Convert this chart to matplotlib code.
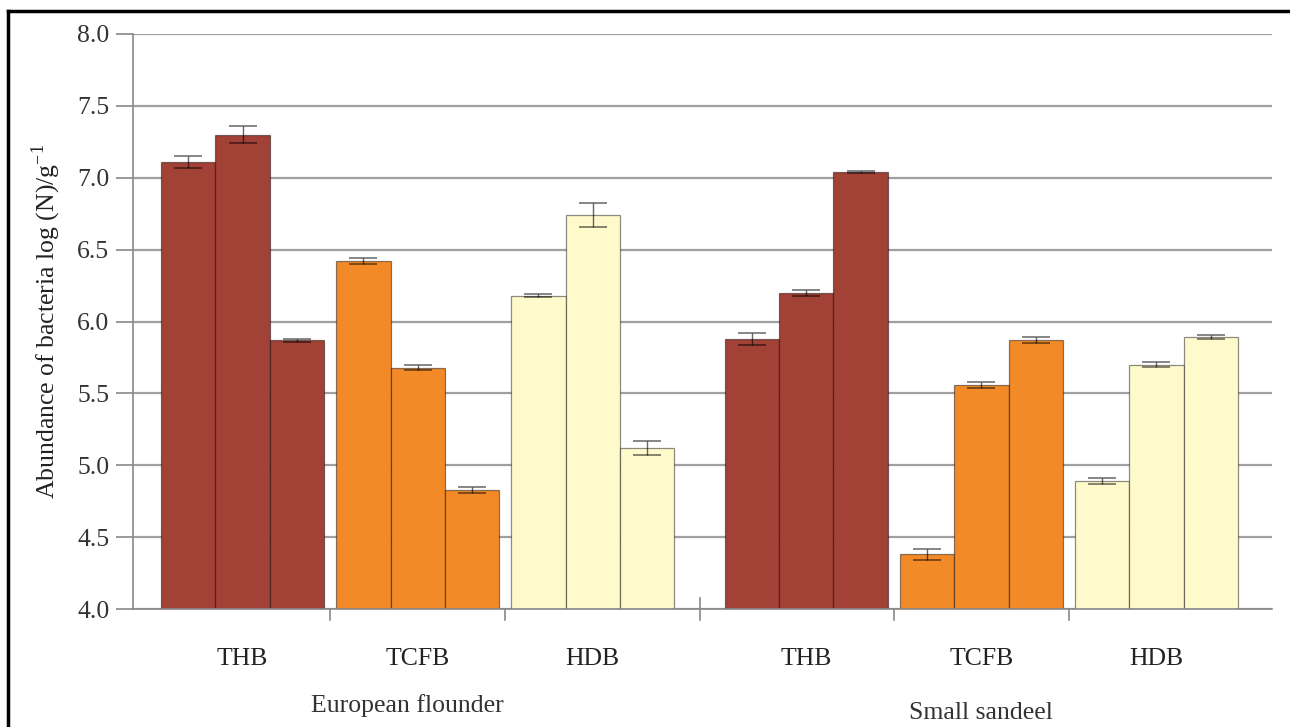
import numpy as np
import matplotlib.pyplot as plt
from matplotlib.lines import Line2D
import matplotlib.transforms as mtransforms

plt.rcParams['font.family'] = ['Liberation Serif', 'DejaVu Serif']

# data
categories = ["THB", "TCFB", "HDB", "THB", "TCFB", "HDB"]
species = ["European flounder", "Small sandeel"]
bar1 = [7.11, 6.42, 6.18, 5.88, 4.38, 4.89]
bar2 = [7.30, 5.68, 6.74, 6.20, 5.56, 5.70]
bar3 = [5.87, 4.83, 5.12, 7.04, 5.87, 5.89]
err1 = [0.04, 0.02, 0.01, 0.04, 0.04, 0.02]
err2 = [0.06, 0.015, 0.085, 0.02, 0.02, 0.02]
err3 = [0.01, 0.02, 0.05, 0.005, 0.02, 0.015]
colors = ["#A24136", "#F28A28", "#FFFACB", "#A24136", "#F28A28", "#FFFACB"]

W, H = 1290, 727
fig = plt.figure(figsize=(W / 100, H / 100), dpi=100)
ax = fig.add_axes([133 / W, 1 - 609 / H, (1272 - 133) / W, (609 - 34) / H])

# group centres, with a wider gap between the two species
centers = np.array([0, 1, 2, 3.22, 4.22, 5.22])
width = 0.31

for vals, errs, off in [(bar1, err1, -width), (bar2, err2, 0), (bar3, err3, width)]:
    x = centers + off
    heights = np.array(vals) - 4.0
    ax.bar(x, heights, width, bottom=4.0, color=colors,
           edgecolor=(0, 0, 0, 0.45), linewidth=0.9, zorder=2)
    ax.errorbar(x, vals, yerr=errs, fmt='none', ecolor=(0, 0, 0, 0.6),
                elinewidth=1, capsize=10.4, capthick=1.1, zorder=3)

ax.set_ylim(4.0, 8.0)
ax.set_xlim(-0.626, 5.88)
ax.set_yticks(np.arange(4.0, 8.01, 0.5))
ax.set_yticklabels([f"{v:.1f}" for v in np.arange(4.0, 8.01, 0.5)])
ax.yaxis.grid(True, color='#a0a0a0', linewidth=1.6)
ax.set_axisbelow(True)
ax.set_xticks([])
for s in ['top', 'right']:
    ax.spines[s].set_visible(False)
ax.spines['left'].set_color('#888888')
ax.spines['bottom'].set_color('#888888')
ax.spines['left'].set_linewidth(1.2)
ax.spines['bottom'].set_linewidth(1.2)
ax.tick_params(axis='y', length=12, width=1.2, color='#888888', pad=5,
               labelsize=18.5, labelcolor='#333333')

# separator ticks between categories
trans = mtransforms.blended_transform_factory(ax.transData, ax.transAxes)
mids = (centers[:-1] + centers[1:]) / 2
for i, m in enumerate(mids):
    top = 0.019 if i == 2 else 0
    ax.add_line(Line2D([m, m], [top, -0.019], transform=trans, color='#888888',
                       linewidth=1.2, clip_on=False))

# category and species labels
for c, lab in zip(centers, categories):
    ax.text(c, -0.087, lab, transform=trans, ha='center', va='center',
            fontsize=18.5, color='#222222')
ax.text(centers[1] - 0.06, -0.167, species[0], transform=trans, ha='center',
        va='center', fontsize=18.5, color='#333333')
ax.text(centers[4], -0.181, species[1], transform=trans, ha='center',
        va='center', fontsize=18.5, color='#333333')

ax.set_ylabel("Abundance of bacteria log (N)/g$^{\\mathregular{-1}}$", fontsize=18.5,
              color='#222222', labelpad=10)

# outer frame (only top and left edges visible)
fig.add_artist(Line2D([8 / W, 1], [1 - 11 / H, 1 - 11 / H], transform=fig.transFigure,
                      color='black', linewidth=2.5))
fig.add_artist(Line2D([8 / W, 8 / W], [0, 1 - 11 / H], transform=fig.transFigure,
                      color='black', linewidth=2.5))

fig.savefig("out.png", dpi=100)
